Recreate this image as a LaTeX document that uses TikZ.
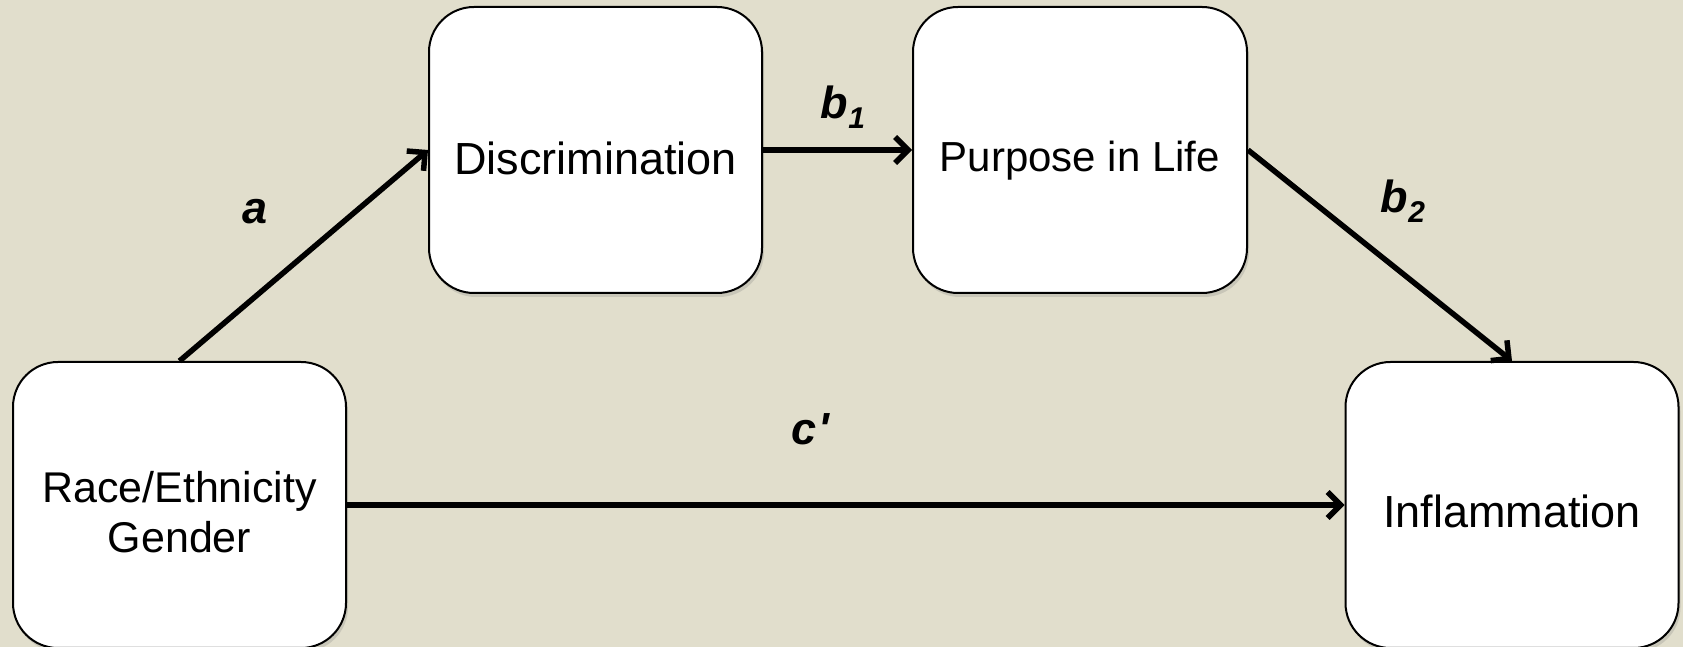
\documentclass[tikz,border=0pt]{standalone}
\usepackage{fontspec}
\setmainfont{Liberation Sans}
\newfontfamily\rawsans{Liberation Sans}[Ligatures=TeXOff]
\usetikzlibrary{arrows.meta,shadows}
\definecolor{bgcol}{RGB}{225,222,204}
\tikzset{
  box/.style={draw=black, line width=2pt, fill=white, rounded corners=45pt,
    minimum width=333pt, minimum height=286pt, inner sep=0pt, align=center,
    drop shadow={opacity=0.25, shadow xshift=2pt, shadow yshift=-4pt}},
  conn/.style={line width=5.5pt, -{Straight Barb[length=13pt,width=26pt]}},
  lbl/.style={font=\fontsize{45}{45}\selectfont\bfseries\itshape, inner sep=0pt}
}
\newcommand{\subsc}[1]{\raisebox{-10pt}{\fontsize{30}{30}\selectfont\bfseries\itshape #1}}
\newcommand{\shifted}[2]{\raisebox{#1}[0pt][0pt]{#2}}
\begin{document}
\begin{tikzpicture}[x=1pt,y=1pt]
  \fill[bgcol] (0,0) rectangle (1683,647);
  \useasboundingbox (0,0) rectangle (1683,647);
  \node[box, font=\fontsize{45}{45}\selectfont] (disc) at (595.5,497) {\shifted{-25pt}{Discrimination}};
  \node[box, font=\fontsize{42}{42}\selectfont, minimum width=334pt] (purp) at (1080,497) {\shifted{-22pt}{Purpose in Life}};
  \node[box, font=\fontsize{43}{50}\selectfont] (race) at (179.5,142) {\shifted{2pt}{\begin{tabular}[t]{@{}c@{}}Race/Ethnicity\\Gender\end{tabular}}};
  \node[box, font=\fontsize{45}{45}\selectfont] (infl) at (1512,142) {\shifted{-23pt}{Inflammation}};
  \draw[conn] (race.north) -- (disc.west);
  \draw[conn] (disc.east) -- (purp.west);
  \draw[conn] (purp.east) -- (infl.north);
  \draw[conn] (race.east) -- (infl.west);
  \node[lbl] (la) at (255,435) {a};
  \node[lbl] (lb1) at (843,540) {b\subsc{1}};
  \node[lbl] (lb2) at (1403,446) {b\subsc{2}};
  \node[lbl] (lc) at (810,218) {c\kern2pt{\rawsans '}};
\end{tikzpicture}
\end{document}
